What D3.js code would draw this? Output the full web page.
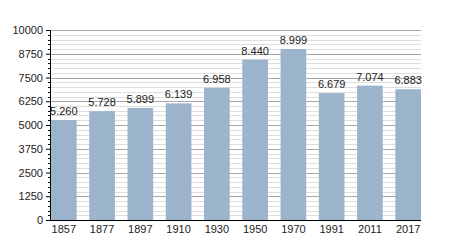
<!DOCTYPE html>
<html>
<head>
<meta charset="utf-8">
<script src="https://cdn.jsdelivr.net/npm/d3@7"></script>
<style>
  body { margin: 0; background: #fff; }
  text { font-family: "Liberation Sans", Arial, sans-serif; }
</style>
</head>
<body>
<div id="chart"></div>
<script>
var years = ["1857", "1877", "1897", "1910", "1930", "1950", "1970", "1991", "2011", "2017"];
var population = [5260, 5728, 5899, 6139, 6958, 8440, 8999, 6679, 7074, 6883];
var yTicks = [0, 1250, 2500, 3750, 5000, 6250, 7500, 8750, 10000];

var w = 450, h = 250,
    margin = { top: 30, left: 50, right: 29, bottom: 30 },
    chartWidth = w - margin.left - margin.right,
    chartHeight = h - margin.top - margin.bottom;

var svg = d3.select("#chart")
    .append("svg")
    .attr("width", w)
    .attr("height", h);

var g = svg.append("g")
    .attr("transform", "translate(" + margin.left + "," + margin.top + ")");

var x = d3.scaleBand().domain(years).range([1, chartWidth]).paddingInner(0.33).paddingOuter(0).align(0);
var y = d3.scaleLinear().domain([0, 10000]).range([chartHeight, 0]);

// minor gridlines every 250
var minor = d3.range(250, 10001, 250).filter(function(v) { return v % 1250 !== 0; });
g.selectAll(".minor")
    .data(minor)
    .enter().append("line")
    .attr("x1", 0).attr("x2", chartWidth)
    .attr("y1", function(d) { return Math.round(y(d)) + 0.5; })
    .attr("y2", function(d) { return Math.round(y(d)) + 0.5; })
    .attr("stroke", "#dedede");

// major gridlines
g.selectAll(".major")
    .data(yTicks.slice(1))
    .enter().append("line")
    .attr("x1", 0).attr("x2", chartWidth)
    .attr("y1", function(d) { return Math.round(y(d)) + 0.5; })
    .attr("y2", function(d) { return Math.round(y(d)) + 0.5; })
    .attr("stroke", "#a8a8a8");

// bars
g.selectAll(".bar")
    .data(population)
    .enter().append("rect")
    .attr("x", function(d, i) { return x(years[i]); })
    .attr("y", function(d) { return y(d); })
    .attr("width", x.bandwidth())
    .attr("height", function(d) { return chartHeight - y(d); })
    .attr("fill", "#9cb3cc");

// value labels
g.selectAll(".lbl")
    .data(population)
    .enter().append("text")
    .attr("x", function(d, i) { return x(years[i]) + x.bandwidth() / 2; })
    .attr("y", function(d) { return y(d) - 5; })
    .attr("text-anchor", "middle")
    .attr("font-size", "11px")
    .attr("fill", "#222")
    .text(function(d) { return d3.format(",")(d).replace(",", "."); });

// y axis
var yAxis = g.append("g")
    .call(d3.axisLeft(y).tickValues(yTicks).tickSize(4).tickFormat(d3.format("d")));
yAxis.select(".domain").attr("stroke", "#000");
yAxis.selectAll("text").attr("font-size", "11px").attr("fill", "#222")
    .attr("font-family", "Liberation Sans, Arial, sans-serif");

// minor ticks on the axis
g.selectAll(".mtick")
    .data(minor)
    .enter().append("line")
    .attr("x1", -2).attr("x2", 0)
    .attr("y1", function(d) { return Math.round(y(d)) + 0.5; })
    .attr("y2", function(d) { return Math.round(y(d)) + 0.5; })
    .attr("stroke", "#000");

// x axis
var xAxis = g.append("g")
    .attr("transform", "translate(0," + chartHeight + ")")
    .call(d3.axisBottom(x).tickSize(0).tickPadding(5));
xAxis.select(".domain").attr("stroke", "#000").attr("d", "M0,0.5H" + chartWidth);
xAxis.selectAll("text").attr("font-size", "11px").attr("fill", "#222")
    .attr("font-family", "Liberation Sans, Arial, sans-serif");
</script>
</body>
</html>
